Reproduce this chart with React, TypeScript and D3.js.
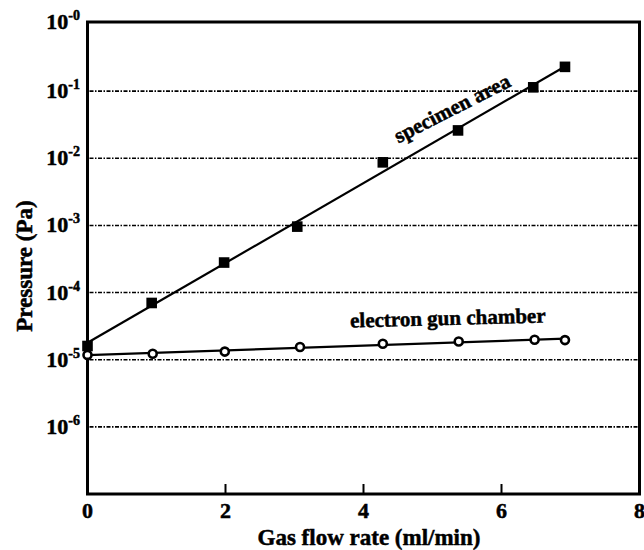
import React from "react";
import * as d3 from "d3";

const specimenFlow = [0, 0.93, 1.98, 3.04, 4.28, 5.37, 6.46, 6.92];
const specimenPressure = [1.6e-5, 7.0e-5, 2.8e-4, 9.6e-4, 8.7e-3, 0.026, 0.114, 0.23];
const gunFlow = [0, 0.945, 1.99, 3.08, 4.28, 5.38, 6.48, 6.92];
const gunPressure = [1.18e-5, 1.23e-5, 1.32e-5, 1.55e-5, 1.73e-5, 1.87e-5, 1.98e-5, 1.96e-5];
const xTicks = [0, 2, 4, 6, 8];
const yExponents = [0, 1, 2, 3, 4, 5, 6];

const width = 644;
const height = 550;
const margin = { top: 22, right: 4.5, bottom: 56, left: 87.5 };
const font = "'Liberation Serif', 'Times New Roman', serif";
const heavy = { fill: "#000", stroke: "#000", strokeWidth: 0.5 };

// least squares in log space, like the fitted lines in the figure
function logFit(xs: number[], ys: number[]) {
  const ly = ys.map((v) => Math.log10(v));
  const mx = d3.mean(xs) as number;
  const my = d3.mean(ly) as number;
  const sxy = d3.sum(xs, (x, i) => (x - mx) * (ly[i] - my));
  const sxx = d3.sum(xs, (x) => (x - mx) * (x - mx));
  const slope = sxy / sxx;
  const icpt = my - slope * mx;
  const x0 = 0;
  const x1 = d3.max(xs) as number;
  return [
    [x0, Math.pow(10, icpt + slope * x0)],
    [x1, Math.pow(10, icpt + slope * x1)],
  ];
}

export default function App() {
  const x = d3.scaleLinear().domain([0, 8]).range([margin.left, width - margin.right]);
  const y = d3.scaleLog().domain([1e-7, 1]).range([height - margin.bottom, margin.top + 2]);
  const frameTop = margin.top;
  const frameBottom = height - margin.bottom;

  const line = d3
    .line<number[]>()
    .x((d) => x(d[0]))
    .y((d) => y(d[1]));

  const specFit = logFit(specimenFlow, specimenPressure);
  const gunFit = logFit(gunFlow, gunPressure);

  return (
    <svg width={width} height={height} style={{ position: "absolute", left: 0, top: 0 }}>
      <rect width={width} height={height} fill="#fff" />
      {/* grid */}
      {yExponents.filter((e) => e > 0).map((e) => (
        <line
          key={"g" + e}
          x1={x(0) + 2}
          x2={x(8) - 1}
          y1={y(Math.pow(10, -e))}
          y2={y(Math.pow(10, -e))}
          stroke="#000"
          strokeWidth={1.6}
          strokeDasharray="4 1.5 1.5 1.5"
        />
      ))}
      {/* x ticks, inward */}
      {xTicks.slice(1, -1).map((t) => (
        <line key={"t" + t} x1={x(t)} x2={x(t)} y1={frameBottom} y2={frameBottom - 10} stroke="#000" strokeWidth={2} />
      ))}
      <rect
        x={x(0)}
        y={frameTop}
        width={x(8) - x(0)}
        height={frameBottom - frameTop}
        fill="none"
        stroke="#000"
        strokeWidth={3}
      />
      {/* fitted lines */}
      <path d={line(specFit) || ""} fill="none" stroke="#000" strokeWidth={2.2} />
      <path d={line(gunFit) || ""} fill="none" stroke="#000" strokeWidth={2.2} />
      {/* markers */}
      {gunFlow.map((f, i) => (
        <circle key={"c" + i} cx={x(f)} cy={y(gunPressure[i])} r={4} fill="#fff" stroke="#000" strokeWidth={2.6} />
      ))}
      {specimenFlow.map((f, i) => (
        <rect key={"s" + i} x={x(f) - 5.3} y={y(specimenPressure[i]) - 5.3} width={10.6} height={10.6} fill="#000" />
      ))}
      {/* y tick labels */}
      {yExponents.map((e) => {
        const yy = e === 0 ? frameTop : y(Math.pow(10, -e));
        return (
          <text key={"yl" + e} x={80} y={yy + 7} textAnchor="end" fontFamily={font} fontWeight="bold" fontSize={22} {...heavy}>
            10
            <tspan fontSize={14} dy={-9}>{"-" + e}</tspan>
          </text>
        );
      })}
      {/* x tick labels */}
      {xTicks.map((t) => (
        <text key={"xl" + t} x={x(t)} y={518} textAnchor="middle" fontFamily={font} fontWeight="bold" fontSize={22} {...heavy}>
          {t}
        </text>
      ))}
      <text x={369} y={545} textAnchor="middle" fontFamily={font} fontWeight="bold" fontSize={23} {...heavy}>
        Gas flow rate (ml/min)
      </text>
      <text
        transform="translate(32,266) rotate(-90)"
        textAnchor="middle"
        fontFamily={font}
        fontWeight="bold"
        fontSize={23}
        {...heavy}
      >
        Pressure (Pa)
      </text>
      {/* annotations */}
      <text
        transform="translate(452,108) rotate(-27)"
        dy="0.35em"
        textAnchor="middle"
        fontFamily={font}
        fontWeight="bold"
        fontSize={21}
        {...heavy}
      >
        specimen area
      </text>
      <text
        transform="translate(448,325) rotate(-1.5)"
        textAnchor="middle"
        fontFamily={font}
        fontWeight="bold"
        fontSize={21}
        {...heavy}
      >
        electron gun chamber
      </text>
    </svg>
  );
}
